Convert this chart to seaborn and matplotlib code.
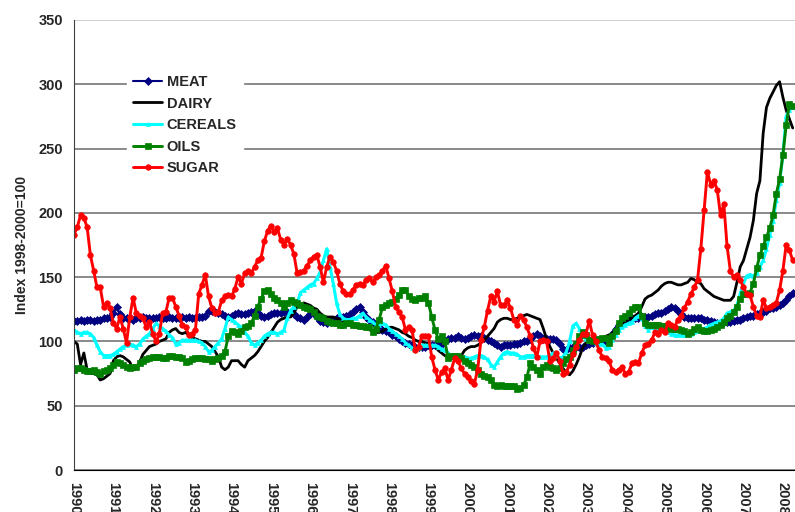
import numpy as np
import matplotlib
matplotlib.use('Agg')
import matplotlib.pyplot as plt
import seaborn as sns

# monthly index values, Jan 1990 - Apr 2008
years = [str(y) for y in range(1990, 2009)]
months = np.arange(220)

meat = [116, 116, 117, 116, 117, 117, 116, 117, 117, 118, 118, 119,
        122, 127, 121, 118, 118, 118, 117, 118, 118, 119, 118, 118,
        118, 118, 119, 118, 118, 119, 118, 118, 118, 119, 118, 119,
        118, 118, 119, 119, 120, 124, 124, 123, 122, 121, 120, 119,
        120, 121, 122, 121, 121, 122, 123, 124, 122, 120, 119, 120,
        121, 122, 122, 122, 123, 123, 123, 121, 119, 118, 117, 119,
        121, 122, 119, 116, 115, 114, 116, 117, 118, 119, 119, 120,
        121, 123, 125, 127, 123, 119, 117, 115, 113, 111, 109, 108,
        107, 105, 104, 102, 100, 99, 98, 97, 96, 96, 96, 96,
        97, 97, 97, 97, 98, 100, 102, 103, 103, 104, 103, 102,
        103, 104, 105, 104, 104, 103, 101, 100, 99, 97, 96, 97,
        97, 97, 98, 98, 99, 100, 100, 102, 104, 106, 104, 102,
        102, 102, 102, 101, 98, 94, 93, 95, 96, 96, 96, 96,
        97, 98, 99, 101, 101, 100, 100, 102, 106, 110, 113, 115,
        117, 117, 118, 118, 118, 119, 119, 119, 120, 121, 122, 122,
        124, 125, 127, 126, 124, 121, 119, 118, 118, 118, 118, 118,
        117, 117, 116, 115, 114, 114, 115, 115, 115, 116, 117, 117,
        118, 119, 120, 120, 121, 122, 123, 124, 126, 126, 127, 128,
        130, 132, 135, 138]

dairy = [100, 98, 82, 91, 78, 75, 75, 74, 70, 71, 73, 75,
         85, 88, 89, 88, 86, 84, 78, 80, 84, 90, 93, 96,
         97, 98, 100, 101, 102, 107, 109, 110, 107, 106, 107, 105,
         103, 102, 101, 100, 100, 98, 96, 92, 88, 80, 78, 80,
         85, 85, 85, 82, 80, 85, 87, 89, 92, 96, 100, 103,
         107, 111, 115, 117, 118, 119, 119, 122, 127, 128, 130, 129,
         128, 126, 125, 122, 120, 119, 119, 119, 118, 117, 116, 115,
         114, 114, 113, 112, 111, 110, 109, 108, 107, 107, 108, 110,
         111, 111, 110, 109, 107, 106, 104, 103, 101, 100, 100, 99,
         98, 97, 96, 93, 91, 89, 88, 87, 87, 88, 89, 93,
         95, 96, 96, 97, 99, 101, 104, 107, 110, 115, 117, 118,
         118, 117, 117, 118, 119, 120, 121, 120, 119, 118, 117, 110,
         102, 96, 91, 87, 83, 79, 76, 74, 77, 82, 88, 95,
         99, 102, 102, 101, 101, 103, 104, 105, 106, 109, 111, 113,
         115, 117, 118, 120, 122, 127, 133, 135, 136, 138, 140, 143,
         145, 146, 146, 145, 144, 144, 145, 146, 149, 148, 146, 145,
         141, 139, 137, 135, 134, 133, 132, 132, 132, 135, 146, 158,
         163, 172, 181, 194, 215, 225, 262, 282, 289, 294, 299, 302,
         290, 280, 273, 266]

cereals = [109, 107, 106, 107, 107, 106, 103, 97, 92, 89, 89, 89,
           90, 92, 94, 96, 97, 98, 97, 96, 98, 102, 104, 106,
           110, 114, 112, 110, 108, 105, 103, 98, 99, 101, 101, 101,
           101, 101, 100, 99, 96, 92, 93, 96, 99, 102, 110, 119,
           117, 115, 113, 111, 107, 104, 99, 97, 99, 101, 104, 106,
           107, 107, 106, 107, 109, 118, 124, 127, 130, 138, 140, 142,
           144, 145, 149, 154, 163, 172, 158, 145, 130, 121, 118, 117,
           117, 118, 118, 120, 122, 119, 117, 115, 113, 113, 114, 113,
           110, 108, 106, 104, 102, 99, 97, 95, 93, 95, 97, 97,
           97, 97, 97, 96, 94, 93, 91, 89, 89, 89, 88, 88,
           87, 87, 88, 89, 89, 88, 86, 82, 80, 84, 88, 91,
           92, 91, 91, 90, 88, 88, 89, 89, 89, 88, 88, 88,
           88, 89, 91, 89, 87, 88, 92, 100, 112, 114, 110, 104,
           102, 100, 100, 99, 98, 98, 95, 96, 101, 105, 109, 111,
           113, 114, 115, 118, 120, 118, 112, 109, 111, 110, 109, 109,
           108, 107, 106, 105, 105, 105, 105, 106, 106, 107, 108, 109,
           110, 111, 113, 114, 115, 116, 118, 122, 123, 124, 128, 137,
           145, 151, 152, 151, 153, 158, 163, 172, 183, 194, 210, 223,
           245, 275, 280, 282]

oils = [78, 79, 79, 78, 77, 77, 78, 76, 75, 77, 78, 79,
        82, 84, 83, 82, 80, 79, 80, 80, 83, 85, 86, 87,
        88, 88, 88, 87, 87, 89, 89, 88, 88, 87, 84, 85,
        86, 87, 87, 87, 86, 86, 85, 86, 87, 89, 92, 104,
        108, 107, 106, 108, 111, 112, 114, 120, 127, 133, 139, 140,
        137, 134, 132, 130, 127, 130, 132, 131, 130, 128, 127, 126,
        125, 123, 120, 119, 118, 116, 115, 114, 114, 113, 113, 114,
        114, 113, 113, 112, 112, 111, 111, 107, 110, 117, 127, 128,
        130, 131, 133, 136, 140, 140, 135, 133, 132, 134, 134, 135,
        130, 119, 109, 102, 104, 100, 87, 89, 89, 89, 87, 85,
        83, 82, 80, 78, 75, 73, 72, 70, 66, 65, 66, 65,
        65, 65, 65, 63, 64, 66, 72, 83, 80, 78, 75, 80,
        82, 80, 79, 78, 79, 83, 86, 88, 93, 98, 104, 107,
        105, 101, 100, 101, 102, 103, 103, 99, 104, 108, 114, 118,
        120, 122, 125, 127, 127, 120, 114, 113, 113, 113, 113, 112,
        112, 111, 110, 110, 110, 109, 108, 106, 107, 110, 111, 109,
        108, 108, 109, 110, 111, 113, 115, 118, 120, 123, 127, 133,
        137, 137, 138, 145, 157, 167, 174, 181, 188, 198, 215, 226,
        245, 268, 285, 283]

sugar = [183, 189, 198, 196, 189, 167, 155, 142, 142, 127, 130, 126,
         114, 110, 119, 110, 99, 119, 134, 122, 120, 118, 111, 115,
         106, 100, 106, 122, 123, 134, 134, 127, 120, 113, 111, 105,
         106, 109, 137, 144, 152, 135, 126, 122, 123, 132, 135, 136,
         135, 141, 150, 145, 153, 155, 153, 158, 163, 165, 178, 186,
         190, 185, 188, 179, 175, 180, 175, 168, 153, 154, 155, 159,
         163, 166, 167, 158, 146, 158, 166, 162, 155, 145, 139, 137,
         137, 140, 144, 145, 144, 148, 149, 146, 150, 152, 155, 159,
         149, 139, 127, 123, 119, 109, 111, 109, 93, 96, 104, 104,
         104, 88, 78, 70, 76, 79, 70, 78, 87, 85, 79, 75,
         72, 69, 67, 78, 101, 111, 124, 135, 131, 139, 128, 128,
         132, 126, 117, 113, 120, 117, 111, 104, 95, 88, 100, 101,
         100, 85, 87, 91, 85, 75, 76, 82, 90, 96, 101, 106,
         106, 116, 105, 100, 93, 88, 87, 85, 78, 76, 78, 80,
         75, 76, 83, 84, 83, 91, 97, 98, 101, 107, 106, 109,
         107, 114, 113, 111, 117, 120, 126, 131, 137, 142, 148, 172,
         202, 232, 222, 225, 218, 198, 207, 174, 155, 150, 152, 148,
         142, 137, 136, 127, 120, 119, 132, 126, 127, 128, 130, 140,
         155, 175, 171, 163]

sns.set_style('white')
plt.rcParams['font.family'] = ['Liberation Sans', 'DejaVu Sans']

fig = plt.figure(figsize=(7.95, 5.12), dpi=100)
ax = fig.add_axes([74 / 795, 42 / 512, 722 / 795, 450 / 512])

# name, values, colour, marker, marker size, line width
series = [('MEAT', meat, '#000080', 'D', 3.6, 1.5),
          ('DAIRY', dairy, '#000000', None, 0, 2.0),
          ('CEREALS', cereals, '#00ffff', '^', 2.8, 2.2),
          ('OILS', oils, '#008000', 's', 4.2, 2.1),
          ('SUGAR', sugar, '#ff0000', 'o', 4.0, 2.1)]

for name, vals, col, mk, ms, lw in series:
    sns.lineplot(x=months, y=vals, ax=ax, color=col, marker=mk, markersize=ms,
                 markeredgecolor=col, markeredgewidth=0.5, linewidth=lw, label=name)

ax.set_xlim(0, 220)
ax.set_ylim(0, 350)
ax.set_yticks(range(0, 351, 50))
ax.set_xticks(range(0, 220, 12))
ax.set_xticklabels(years, rotation=-90, fontsize=10.5, fontweight='bold')
ax.set_xticks(months, minor=True)
for t in ax.get_yticklabels():
    t.set_fontweight('bold')
ax.tick_params(axis='x', which='both', direction='inout', length=7, width=0.8,
               color='black', pad=5)
ax.tick_params(axis='y', direction='out', length=5, width=0.8, color='#404040',
               labelsize=10.5, pad=3)

ax.yaxis.grid(True, color='#808080', linewidth=1.3)
ax.get_ygridlines()[-1].set_color('#cccccc')
ax.set_axisbelow(True)
sns.despine(ax=ax, top=True, right=True)
ax.spines['left'].set_color('#404040')
ax.spines['bottom'].set_color('black')

ax.set_xlabel('')
ax.set_ylabel('Index 1998-2000=100', fontsize=10, fontweight='bold')
ax.yaxis.set_label_coords(-0.063, 0.5)

leg = ax.legend(loc='upper left', bbox_to_anchor=(0.064, 0.907), frameon=True,
                fancybox=False, edgecolor='white', facecolor='white', framealpha=1,
                prop={'weight': 'bold', 'size': 10.5}, handlelength=2.0,
                handletextpad=0.3, labelspacing=0.52, borderpad=0.4, numpoints=1)

fig.savefig('out.png', dpi=100)
